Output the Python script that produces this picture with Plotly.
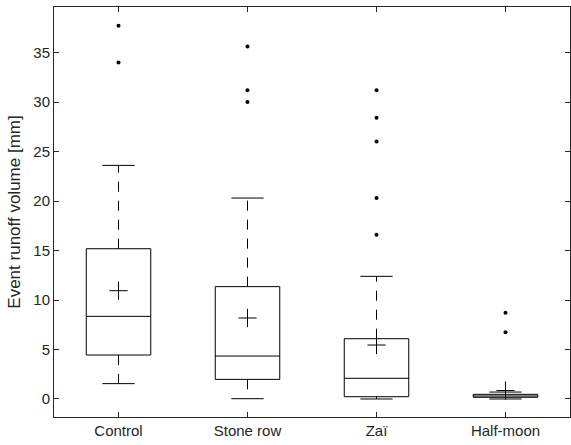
import plotly.graph_objects as go

categories = ["Control", "Stone row", "Zaï", "Half-moon"]
lower_whisker = [1.55, 0.03, 0.0, 0.0]
q1 = [4.44, 1.98, 0.23, 0.17]
median = [8.35, 4.34, 2.09, 0.30]
q3 = [15.18, 11.35, 6.09, 0.47]
upper_whisker = [23.6, 20.3, 12.39, 0.70]
means = [10.94, 8.18, 5.45, 0.85]
outliers = [
    [37.7, 34.0],
    [35.6, 31.2, 30.0],
    [31.2, 28.4, 26.0, 20.3, 16.6],
    [8.72, 6.73],
]
y_ticks = [0, 5, 10, 15, 20, 25, 30, 35]

BOX_HALF = 0.25
CAP_HALF = 0.125
LINE = "#000000"
AXIS = "#262626"

fig = go.Figure()
positions = list(range(1, len(categories) + 1))

for i, p in enumerate(positions):
    # dashed whiskers (drawn from the box outward)
    fig.add_trace(go.Scatter(x=[p, p], y=[q3[i], upper_whisker[i]], mode="lines",
                             line=dict(color=LINE, width=1, dash="10px,9px"),
                             hoverinfo="skip", showlegend=False))
    fig.add_trace(go.Scatter(x=[p, p], y=[q1[i], lower_whisker[i]], mode="lines",
                             line=dict(color=LINE, width=1, dash="10px,9px"),
                             hoverinfo="skip", showlegend=False))
    # caps
    for w in (upper_whisker[i], lower_whisker[i]):
        fig.add_trace(go.Scatter(x=[p - CAP_HALF, p + CAP_HALF], y=[w, w], mode="lines",
                                 line=dict(color=LINE, width=1),
                                 hoverinfo="skip", showlegend=False))
    # box
    fig.add_trace(go.Scatter(
        x=[p - BOX_HALF, p + BOX_HALF, p + BOX_HALF, p - BOX_HALF, p - BOX_HALF],
        y=[q1[i], q1[i], q3[i], q3[i], q1[i]], mode="lines",
        line=dict(color=LINE, width=1), hoverinfo="skip", showlegend=False))
    # median
    fig.add_trace(go.Scatter(x=[p - BOX_HALF, p + BOX_HALF], y=[median[i], median[i]],
                             mode="lines", line=dict(color=LINE, width=1),
                             hoverinfo="skip", showlegend=False))
    # outliers
    fig.add_trace(go.Scatter(x=[p] * len(outliers[i]), y=outliers[i], mode="markers",
                             marker=dict(color=LINE, size=4, symbol="circle"),
                             hoverinfo="skip", showlegend=False))

# means
fig.add_trace(go.Scatter(x=positions, y=means, mode="markers",
                         marker=dict(symbol="cross-thin", size=13,
                                     line=dict(color=LINE, width=1)),
                         hoverinfo="skip", showlegend=False))

font_family = "Liberation Sans, Arial, Helvetica, sans-serif"

fig.update_layout(
    width=571, height=445,
    margin=dict(l=54, r=1, t=7, b=28, autoexpand=False),
    paper_bgcolor="white", plot_bgcolor="white",
    font=dict(family=font_family, size=15, color=AXIS),
    xaxis=dict(range=[0.5, 4.5], tickvals=positions, ticktext=categories,
               ticks="inside", ticklen=5, tickcolor=AXIS, tickwidth=1,
               showline=True, linecolor=AXIS, linewidth=1, mirror="ticks",
               showgrid=False, zeroline=False, fixedrange=True,
               tickfont=dict(size=15, color=AXIS, family=font_family)),
    yaxis=dict(range=[-1.82, 39.6], tickvals=y_ticks,
               ticks="inside", ticklen=5, tickcolor=AXIS, tickwidth=1,
               showline=True, linecolor=AXIS, linewidth=1, mirror="ticks",
               showgrid=False, zeroline=False, fixedrange=True,
               tickfont=dict(size=15, color=AXIS, family=font_family),
               title=dict(text="Event runoff volume [mm]", standoff=8,
                          font=dict(size=17, color=AXIS, family=font_family))),
)

fig.write_html("out.html", config={"displayModeBar": False},
               post_script="document.body.style.margin='0';document.body.style.overflow='hidden';")
